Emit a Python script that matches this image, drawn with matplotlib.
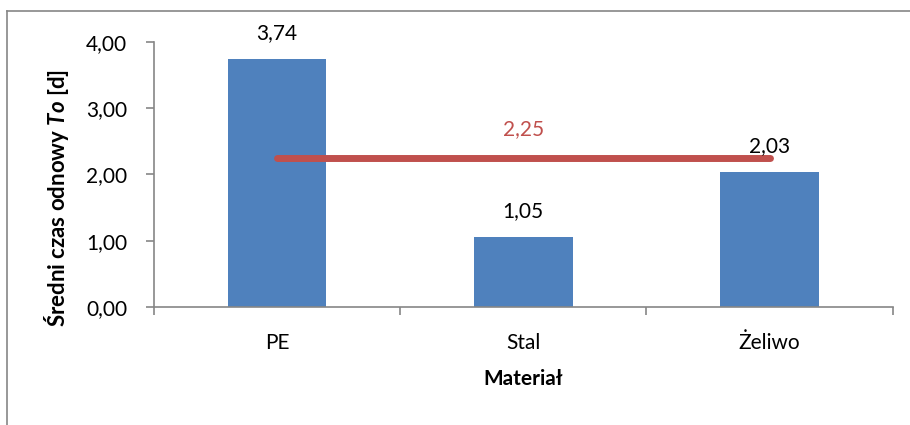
import numpy as np
import matplotlib.pyplot as plt
from matplotlib.lines import Line2D
from matplotlib.ticker import FixedLocator, FuncFormatter

plt.rcParams['font.family'] = ['Lato', 'DejaVu Sans']
plt.rcParams['mathtext.fontset'] = 'custom'
plt.rcParams['mathtext.bfit'] = 'Lato:italic:bold'
plt.rcParams['mathtext.rm'] = 'Lato'

materials = ['PE', 'Stal', 'Żeliwo']
mean_time = [3.74, 1.05, 2.03]
overall_mean = 2.25

bar_color = '#4F81BD'
line_color = '#C0504D'
axis_color = '#868686'
fs = 15


def pl(v):
    return f'{v:.2f}'.replace('.', ',')


fig = plt.figure(figsize=(9.1, 4.25), dpi=100)
ax = fig.add_axes([0.169, 0.278, 0.812, 0.623])

x = np.arange(len(materials))
ax.bar(x, mean_time, width=0.4, color=bar_color, zorder=2)
ax.plot([x[0], x[-1]], [overall_mean, overall_mean], color=line_color,
        lw=5, solid_capstyle='round', zorder=3)

for xi, v in zip(x, mean_time):
    ax.annotate(pl(v), (xi, v), xytext=(0, 19), textcoords='offset points',
                ha='center', va='center', fontsize=fs, color='black')
ax.annotate(pl(overall_mean), (x[len(x) // 2], overall_mean), xytext=(0, 21),
            textcoords='offset points', ha='center', va='center',
            fontsize=fs, color=line_color)

ax.set_xlim(-0.5, len(materials) - 0.5)
ax.set_ylim(0, 4)
ax.set_yticks(np.arange(0, 4.01, 1))
ax.yaxis.set_major_formatter(FuncFormatter(lambda v, p: pl(v)))
ax.set_xticks(x)
ax.set_xticklabels(materials)
ax.xaxis.set_minor_locator(FixedLocator(np.arange(-0.5, len(materials), 1)))

for s in ['top', 'right']:
    ax.spines[s].set_visible(False)
for s in ['left', 'bottom']:
    ax.spines[s].set_color(axis_color)
    ax.spines[s].set_linewidth(1.2)

ax.tick_params(axis='y', direction='out', length=6, width=1.2, color=axis_color,
               labelsize=fs, pad=13)
ax.tick_params(axis='x', which='major', length=0, labelsize=fs, pad=19)
ax.tick_params(axis='x', which='minor', direction='out', length=6, width=1.2,
               color=axis_color)

ax.set_xlabel('Materiał', fontsize=fs, fontweight='bold', labelpad=11)
ax.set_ylabel(r'Średni czas odnowy $\mathbfit{To}$ [d]', fontsize=16,
              fontweight='bold')
ax.yaxis.set_label_coords(-0.112, 0.41)

# chart frame (only left and top edges fall inside the picture)
fig.add_artist(Line2D([7 / 910, 7 / 910], [0, 1 - 11 / 425],
                      transform=fig.transFigure, color=axis_color, lw=1.2))
fig.add_artist(Line2D([7 / 910, 1], [1 - 11 / 425, 1 - 11 / 425],
                      transform=fig.transFigure, color=axis_color, lw=1.2))

fig.savefig('out.png', dpi=100)
